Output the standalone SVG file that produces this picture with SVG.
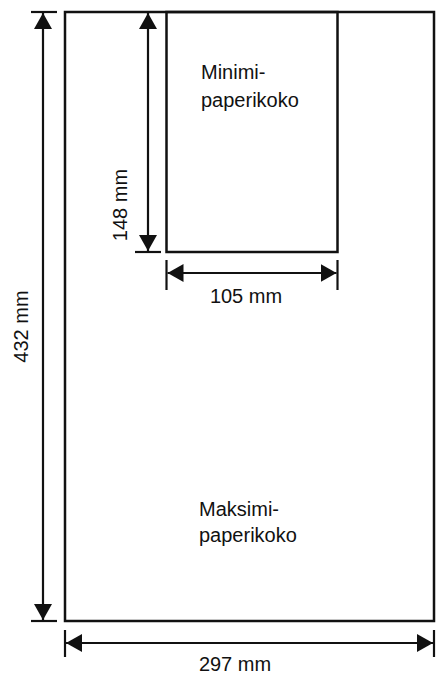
<svg xmlns="http://www.w3.org/2000/svg" width="445" height="679" viewBox="0 0 445 679">
<style>
.box{fill:none;stroke:#111;stroke-width:2.5}
.dim{fill:none;stroke:#111;stroke-width:2.2}
.lbl{font-family:"Liberation Sans",Arial,sans-serif;font-size:20px;fill:#111}
</style>
<defs>
<marker id="ah" viewBox="0 0 16 18" refX="16" refY="9" markerWidth="16" markerHeight="18" markerUnits="userSpaceOnUse" orient="auto-start-reverse">
<path d="M0,0 L16,9 L0,18 Z" fill="#111"/>
</marker>
</defs>
<rect width="445" height="679" fill="#fff"/>
<g id="max-paper">
<rect class="box" x="65" y="12" width="369" height="609"/>
<text class="lbl" x="199" y="516">Maksimi-</text>
<text class="lbl" x="199" y="542">paperikoko</text>
</g>
<g id="min-paper">
<rect class="box" x="166.5" y="12" width="171" height="240"/>
<text class="lbl" x="201" y="79">Minimi-</text>
<text class="lbl" x="201" y="107">paperikoko</text>
</g>
<g id="connectors">
<!-- 432 mm -->
<line class="dim" x1="31" y1="12" x2="57" y2="12"/>
<line class="dim" x1="31" y1="621" x2="57" y2="621"/>
<line class="dim" x1="43" y1="13" x2="43" y2="620" marker-start="url(#ah)" marker-end="url(#ah)"/>
<!-- 148 mm -->
<line class="dim" x1="135" y1="252" x2="161" y2="252"/>
<line class="dim" x1="148" y1="13" x2="148" y2="251" marker-start="url(#ah)" marker-end="url(#ah)"/>
<!-- 105 mm -->
<line class="dim" x1="166.5" y1="260" x2="166.5" y2="290"/>
<line class="dim" x1="337.5" y1="260" x2="337.5" y2="290"/>
<line class="dim" x1="167.5" y1="273" x2="336.5" y2="273" marker-start="url(#ah)" marker-end="url(#ah)"/>
<!-- 297 mm -->
<line class="dim" x1="65" y1="630" x2="65" y2="657"/>
<line class="dim" x1="434" y1="630" x2="434" y2="657"/>
<line class="dim" x1="66" y1="643" x2="433" y2="643" marker-start="url(#ah)" marker-end="url(#ah)"/>
</g>
<g id="labels">
<text class="lbl" x="0" y="0" text-anchor="middle" transform="translate(28,326.5) rotate(-90)">432 mm</text>
<text class="lbl" x="0" y="0" text-anchor="middle" transform="translate(127,205) rotate(-90)">148 mm</text>
<text class="lbl" x="246" y="303" text-anchor="middle">105 mm</text>
<text class="lbl" x="235" y="671" text-anchor="middle">297 mm</text>
</g>
</svg>
